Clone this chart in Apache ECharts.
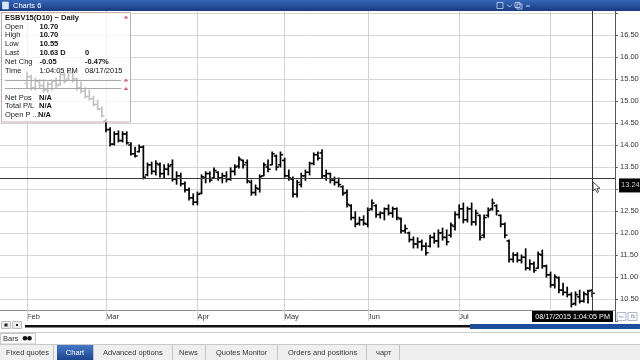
<!DOCTYPE html>
<html><head><meta charset="utf-8">
<script src="https://cdn.jsdelivr.net/npm/echarts@6/dist/echarts.min.js"></script>
<style>html,body{margin:0;padding:0;background:#fff;overflow:hidden}#c{width:640px;height:360px}</style>
</head><body><div id="c"></div>
<script>
// ---- categories (trading days, MM/DD 2015) ----
const categories = [
 '01/23','01/26','01/27','01/28','01/29','01/30',
 '02/02','02/03','02/04','02/05','02/06','02/09','02/10','02/11','02/12','02/13','02/17','02/18','02/19','02/20','02/23','02/24','02/25','02/26','02/27',
 '03/02','03/03','03/04','03/05','03/06','03/09','03/10','03/11','03/12','03/13','03/16','03/17','03/18','03/19','03/20','03/23','03/24','03/25','03/26','03/27','03/30','03/31',
 '04/01','04/02','04/06','04/07','04/08','04/09','04/10','04/13','04/14','04/15','04/16','04/17','04/20','04/21','04/22','04/23','04/24','04/27','04/28','04/29','04/30',
 '05/01','05/04','05/05','05/06','05/07','05/08','05/11','05/12','05/13','05/14','05/15','05/18','05/19','05/20','05/21','05/22','05/26','05/27','05/28','05/29',
 '06/01','06/02','06/03','06/04','06/05','06/08','06/09','06/10','06/11','06/12','06/15','06/16','06/17','06/18','06/19','06/22','06/23','06/24','06/25','06/26','06/29','06/30',
 '07/01','07/02','07/06','07/07','07/08','07/09','07/10','07/13','07/14','07/15','07/16','07/17','07/20','07/21','07/22','07/23','07/24','07/27','07/28','07/29','07/30','07/31',
 '08/03','08/04','08/05','08/06','08/07','08/10','08/11','08/12','08/13','08/14','08/17',
 '08/18','08/19','08/20','08/21','08/24'
];
const monthStarts = ['02/02','03/02','04/01','05/01','06/01','07/01','08/03'];
const monthNames  = ['Feb','Mar','Apr','May','Jun','Jul','Aug'];
const firstBarDate = '02/02';

// ---- OHLC values (Feb 2 .. Aug 17) ----
const opens = [
 15.40,15.55,15.30,15.45,15.35,15.25,15.38,15.45,15.38,15.60,15.50,15.65,15.50,15.30,15.22,15.10,15.05,14.92,14.82,
 14.55,14.35,14.02,14.25,14.10,14.25,14.00,13.80,13.85,13.95,13.32,13.55,13.40,13.55,13.35,13.45,13.55,13.22,13.30,13.12,12.98,12.80,
 12.70,12.90,13.25,13.35,13.25,13.38,13.25,13.30,13.22,13.40,13.52,13.65,13.60,13.15,12.92,13.00,13.30,13.50,13.55,13.75,13.55,
 13.65,13.30,13.22,12.88,13.10,13.30,13.38,13.58,13.78,13.82,13.30,13.35,13.20,13.15,13.05,12.92,12.62,12.35,12.22,12.30,
 12.20,12.55,12.62,12.42,12.45,12.55,12.45,12.55,12.32,12.05,12.00,11.85,11.75,11.80,11.70,11.70,11.90,11.82,12.00,11.90,11.95,12.15,
 12.42,12.55,12.30,12.55,12.25,12.40,11.95,12.40,12.55,12.62,12.40,12.20,11.82,11.40,11.50,11.38,11.45,11.20,11.30,11.20,11.50,11.25,
 11.05,10.82,10.98,10.70,10.65,10.60,10.40,10.55,10.45,10.60,10.70
];
const highs = [
 15.64,15.59,15.52,15.48,15.48,15.43,15.48,15.52,15.64,15.64,15.70,15.66,15.52,15.43,15.30,15.25,15.11,15.02,14.86,
 14.59,14.39,14.30,14.32,14.30,14.30,14.05,13.95,14.00,13.98,13.59,13.61,13.64,13.59,13.55,13.57,13.66,13.39,13.36,13.16,13.02,12.89,
 12.93,13.32,13.39,13.39,13.48,13.39,13.36,13.39,13.48,13.55,13.73,13.66,13.66,13.20,13.09,13.32,13.59,13.66,13.84,13.77,13.84,
 13.70,13.43,13.27,13.20,13.36,13.43,13.61,13.82,13.84,13.89,13.43,13.36,13.27,13.25,13.07,12.98,12.64,12.48,12.36,12.39,
 12.57,12.75,12.64,12.48,12.57,12.64,12.59,12.57,12.34,12.18,12.02,11.91,11.89,11.84,11.77,11.95,12.00,12.07,12.11,12.07,12.23,12.48,
 12.64,12.68,12.59,12.68,12.52,12.41,12.41,12.57,12.77,12.64,12.41,12.23,11.84,11.55,11.55,11.50,11.64,11.39,11.34,11.57,11.61,11.27,
 11.11,11.05,11.00,10.86,10.77,10.64,10.66,10.70,10.66,10.70,10.70
];
const lows = [
 15.30,15.25,15.25,15.30,15.20,15.20,15.25,15.30,15.36,15.41,15.48,15.43,15.25,15.18,15.07,15.02,14.89,14.80,14.64,
 14.30,13.98,14.00,14.07,14.07,14.02,13.77,13.73,13.84,13.23,13.30,13.34,13.32,13.27,13.25,13.32,13.18,13.11,13.07,12.93,12.75,12.64,
 12.64,12.89,13.14,13.16,13.25,13.20,13.14,13.16,13.20,13.32,13.48,13.48,13.14,12.86,12.86,12.93,13.30,13.39,13.55,13.43,13.50,
 13.27,13.20,12.82,12.82,13.05,13.20,13.32,13.55,13.66,13.25,13.20,13.14,13.09,13.05,12.86,12.59,12.30,12.14,12.18,12.18,
 12.14,12.52,12.36,12.34,12.30,12.41,12.36,12.30,12.00,12.00,11.80,11.66,11.66,11.61,11.50,11.68,11.77,11.68,11.84,11.73,11.91,12.07,
 12.34,12.23,12.25,12.18,12.18,11.84,11.89,12.36,12.52,12.41,12.14,11.89,11.34,11.34,11.34,11.32,11.16,11.16,11.11,11.20,11.20,11.00,
 10.77,10.75,10.64,10.59,10.55,10.32,10.36,10.41,10.43,10.41,10.55
];
const closes = [
 15.55,15.30,15.45,15.35,15.25,15.38,15.45,15.35,15.60,15.45,15.65,15.50,15.30,15.22,15.10,15.05,14.92,14.82,14.66,
 14.35,14.02,14.25,14.10,14.25,14.05,13.80,13.75,13.95,13.27,13.55,13.40,13.58,13.35,13.45,13.52,13.22,13.30,13.12,12.98,12.80,12.70,
 12.88,13.28,13.35,13.20,13.42,13.25,13.30,13.22,13.40,13.50,13.68,13.55,13.18,12.92,13.02,13.28,13.55,13.45,13.80,13.50,13.78,
 13.30,13.25,12.88,13.15,13.30,13.38,13.58,13.78,13.70,13.30,13.35,13.20,13.15,13.10,12.90,12.65,12.35,12.20,12.30,12.22,
 12.52,12.68,12.42,12.45,12.55,12.45,12.55,12.35,12.05,12.10,11.85,11.75,11.80,11.70,11.55,11.90,11.82,12.00,11.90,11.80,12.18,12.42,
 12.55,12.30,12.55,12.25,12.45,11.90,12.35,12.52,12.68,12.50,12.20,11.95,11.40,11.50,11.38,11.45,11.20,11.30,11.15,11.52,11.25,11.05,
 10.82,11.00,10.70,10.65,10.60,10.38,10.60,10.45,10.62,10.68,10.63
];

// ---- axis / cursor texts ----
const yMin = 10, yMax = 17.5, yStep = 0.5, yLabelLow = 10.5, yLabelHigh = 16.5;
const crossDate = '08/17';
const crossPrice = 13.24;
const crossLabel = '13.24';
const lastPrice = 10.63;
const dateStamp = '08/17/2015 1:04:05 PM';
const infoRows = [
  ['Open','10.70','',''],['High','10.70','',''],['Low','10.55','',''],
  ['Last','10.63 D','0',''],['Net Chg','-0.05','-0.47%',''],['Time','1:04:05 PM','08/17/2015','r']
];
const posRows = [['Net Pos','N/A'],['Total P/L','N/A'],['Open P ...','N/A']];
const tabs = [['Fixed quotes',6],['Advanced options',103],['News',179],['Quotes Monitor',216],['Orders and positions',288],['чарт',376]];
const tabSeps = [53,93,172,205,277,366,399];

const FONT = '"Liberation Sans", Arial, sans-serif';
const start = categories.indexOf(firstBarDate);
const ohlc = opens.map((o,k)=>[start+k, o, highs[k], lows[k], closes[k]]);

function renderBar(params, api){
  const x = api.value(0);
  const o = api.coord([x, api.value(1)]);
  const h = api.coord([x, api.value(2)]);
  const l = api.coord([x, api.value(3)]);
  const c = api.coord([x, api.value(4)]);
  const st = {stroke:'#000', lineWidth:1.7};
  const tk = {stroke:'#000', lineWidth:1.5};
  return {type:'group', children:[
    {type:'line', shape:{x1:h[0],y1:h[1]-0.5,x2:l[0],y2:l[1]+0.5}, style:st},
    {type:'line', shape:{x1:o[0]-2.6,y1:o[1],x2:o[0],y2:o[1]}, style:tk},
    {type:'line', shape:{x1:c[0],y1:c[1],x2:c[0]+2.6,y2:c[1]}, style:tk}
  ]};
}

const chart = echarts.init(document.getElementById('c'), null, {renderer:'canvas'});

const g = [];
// title bar
g.push({type:'rect', shape:{x:0,y:0,width:640,height:11}, z:200,
  style:{fill:new echarts.graphic.LinearGradient(0,0,0,1,[{offset:0,color:'#3566b8'},{offset:1,color:'#173a80'}])}});
g.push({type:'rect', shape:{x:2.5,y:2,width:6,height:7}, z:201, style:{fill:'#d8e4f8', stroke:'#fff', lineWidth:0.5}});
g.push({type:'text', x:13, y:5.5, z:201, style:{text:'Charts 6', fill:'#fff', fontSize:7.5, fontFamily:FONT, verticalAlign:'middle'}});
g.push({type:'rect', shape:{x:497,y:2.5,width:6,height:6}, z:201, style:{fill:'none', stroke:'#cfdcf2', lineWidth:0.8}});
g.push({type:'polyline', shape:{points:[[507,4.5],[509.5,7],[512,4.5]]}, z:201, style:{stroke:'#cfdcf2', lineWidth:0.8, fill:'none'}});
g.push({type:'rect', shape:{x:515,y:2.5,width:5,height:5}, z:201, style:{fill:'none', stroke:'#cfdcf2', lineWidth:0.8}});
g.push({type:'rect', shape:{x:517,y:4,width:5,height:5}, z:201, style:{fill:'none', stroke:'#cfdcf2', lineWidth:0.8}});
g.push({type:'line', shape:{x1:526,y1:6,x2:530,y2:6}, z:201, style:{stroke:'#cfdcf2', lineWidth:1}});

// info box
g.push({type:'rect', shape:{x:1.5,y:12.5,width:129,height:109.5}, z:150,
  style:{fill:'rgba(255,255,255,0.76)', stroke:'#c9a9b0', lineWidth:1}});
g.push({type:'text', x:5, y:17.5, z:151, style:{text:'ESBV15(D10) ~ Daily', fill:'#111', fontSize:7.5, fontWeight:'bold', fontFamily:FONT, verticalAlign:'middle'}});
infoRows.forEach((r,i)=>{
  const y = 26.5 + i*8.8;
  g.push({type:'text', x:5, y:y, z:151, style:{text:r[0], fill:'#222', fontSize:7.5, fontFamily:FONT, verticalAlign:'middle'}});
  g.push({type:'text', x:39.5, y:y, z:151, style:{text:r[1], fill:'#111', fontSize:7.5, fontWeight:r[3]==='r'?'normal':'bold', fontFamily:FONT, verticalAlign:'middle'}});
  if (r[2]) g.push({type:'text', x:85, y:y, z:151, style:{text:r[2], fill:'#111', fontSize:7.5, fontWeight:r[3]==='r'?'normal':'bold', fontFamily:FONT, verticalAlign:'middle'}});
});
[80.5, 88.5].forEach(y=>{
  g.push({type:'line', shape:{x1:5,y1:y,x2:121,y2:y}, z:151, style:{stroke:'#a8a8a8', lineWidth:1}});
});
[17, 80, 88.5].forEach(y=>{
  g.push({type:'polygon', shape:{points:[[123.5,y+1.5],[128.5,y+1.5],[126,y-1.5]]}, z:151, style:{fill:'#cf6a7c'}});
});
posRows.forEach((r,i)=>{
  const y = 97.5 + i*8.9;
  g.push({type:'text', x:5, y:y, z:151, style:{text:r[0], fill:'#222', fontSize:7.5, fontFamily:FONT, verticalAlign:'middle'}});
  g.push({type:'text', x:i===2?38:39, y:y, z:151, style:{text:r[1], fill:'#111', fontSize:7.5, fontWeight:'bold', fontFamily:FONT, verticalAlign:'middle'}});
});

// date stamp on x axis + small buttons
g.push({type:'rect', shape:{x:532,y:311,width:81,height:11}, z:160, style:{fill:'#000'}});
g.push({type:'text', x:572.5, y:316.8, z:161, style:{text:dateStamp, fill:'#fff', fontSize:7.2, fontFamily:FONT, align:'center', verticalAlign:'middle'}});
[617,628].forEach(x=>{
  g.push({type:'rect', shape:{x:x,y:312.5,width:9,height:8}, z:160, style:{fill:'#fdfdfd', stroke:'#9aa6c0', lineWidth:0.8}});
});
g.push({type:'text', x:621.5, y:316.5, z:161, style:{text:'⌙', fill:'#4060a0', fontSize:6, fontFamily:FONT, align:'center', verticalAlign:'middle'}});
g.push({type:'text', x:632.5, y:316.5, z:161, style:{text:'ռ', fill:'#4060a0', fontSize:6, fontFamily:FONT, align:'center', verticalAlign:'middle'}});

// scrollbar area
g.push({type:'rect', shape:{x:0,y:322,width:640,height:11}, z:120, style:{fill:'#fff'}});
g.push({type:'rect', shape:{x:1.5,y:321.5,width:9,height:7}, z:121, style:{fill:'#ececec', stroke:'#b0b0b0', lineWidth:0.8}});
g.push({type:'rect', shape:{x:12.5,y:321.5,width:9,height:7}, z:121, style:{fill:'#ececec', stroke:'#b0b0b0', lineWidth:0.8}});
g.push({type:'rect', shape:{x:4.5,y:323.5,width:3,height:3}, z:122, style:{fill:'#222'}});
g.push({type:'rect', shape:{x:16,y:324,width:2,height:2}, z:122, style:{fill:'#222'}});
g.push({type:'rect', shape:{x:25,y:325,width:615,height:2.5}, z:121, style:{fill:'#111'}});
g.push({type:'rect', shape:{x:470,y:324,width:170,height:5}, z:122, style:{fill:'#1c4e9c'}});
g.push({type:'rect', shape:{x:0,y:332,width:640,height:1}, z:121, style:{fill:'#cccccc'}});
// Bars tab
g.push({type:'rect', shape:{x:0.5,y:333.5,width:35,height:10.5}, z:121, style:{fill:'#fafafa', stroke:'#bdbdbd', lineWidth:0.8}});
g.push({type:'text', x:3, y:339, z:122, style:{text:'Bars', fill:'#333', fontSize:7.5, fontFamily:FONT, verticalAlign:'middle'}});
g.push({type:'circle', shape:{cx:25,cy:338.3,r:2.3}, z:122, style:{fill:'#111'}});
g.push({type:'circle', shape:{cx:29.5,cy:338.3,r:2.3}, z:122, style:{fill:'#111'}});
// bottom tabs
g.push({type:'rect', shape:{x:0,y:344,width:640,height:16}, z:121, style:{fill:'#efefef'}});
g.push({type:'line', shape:{x1:0,y1:344.5,x2:640,y2:344.5}, z:122, style:{stroke:'#c8c8c8', lineWidth:1}});
g.push({type:'rect', shape:{x:57,y:345,width:36,height:15}, z:122,
  style:{fill:new echarts.graphic.LinearGradient(0,0,0,1,[{offset:0,color:'#4577c6'},{offset:1,color:'#1d468e'}])}});
g.push({type:'text', x:75, y:352.5, z:123, style:{text:'Chart', fill:'#fff', fontSize:7.5, fontFamily:FONT, align:'center', verticalAlign:'middle'}});
tabs.forEach(t=>{
  g.push({type:'text', x:t[1], y:352.5, z:123, style:{text:t[0], fill:'#333', fontSize:7.5, fontFamily:FONT, verticalAlign:'middle'}});
});
tabSeps.forEach(x=>{
  g.push({type:'line', shape:{x1:x+0.5,y1:345,x2:x+0.5,y2:360}, z:123, style:{stroke:'#c4c4c4', lineWidth:1}});
});
// mouse cursor
g.push({type:'polygon', shape:{points:[[593,182],[593,191],[595.3,188.8],[597,192.5],[598.6,191.8],[597,188.3],[600,188.3]]}, z:170,
  style:{fill:'#fff', stroke:'#222', lineWidth:0.8}});

const option = {
  animation:false,
  backgroundColor:'#fff',
  grid:{left:0, top:-9, width:615, height:330, containLabel:false, outerBoundsMode:'none'},
  xAxis:{
    type:'category', data:categories, boundaryGap:true, position:'bottom', offset:-11,
    axisLine:{show:true, lineStyle:{color:'#8c8c8c', width:1}},
    axisTick:{show:true, alignWithLabel:true, length:4, interval:(i,v)=>monthStarts.includes(v), lineStyle:{color:'#9a9a9a'}},
    axisLabel:{show:true, interval:(i,v)=>monthStarts.includes(v), formatter:(v)=>monthNames[monthStarts.indexOf(v)] || '',
      align:'left', margin:3, fontSize:7.5, color:'#333', fontFamily:FONT},
    splitLine:{show:false}
  },
  yAxis:{
    type:'value', position:'right', min:yMin, max:yMax, interval:yStep, scale:true,
    axisLine:{show:true, lineStyle:{color:'#555', width:1}},
    axisTick:{show:true, length:3, lineStyle:{color:'#666'}},
    axisLabel:{show:true, margin:5, fontSize:7.5, color:'#333', fontFamily:FONT, padding:[0,0,4,0],
      formatter:(v)=> (v>=yLabelLow-1e-9 && v<=yLabelHigh+1e-9) ? v.toFixed(2) : ''},
    splitLine:{show:true, showMinLine:false, showMaxLine:false, lineStyle:{color:'#d6d6d6', width:1}}
  },
  series:[
    {
      type:'line', data:categories.map(()=>null), silent:true, z:1, showSymbol:false,
      markLine:{silent:true, symbol:'none', animation:false, label:{show:false},
        lineStyle:{color:'#d2d2d2', width:1, type:'solid'},
        data:monthStarts.map(d=>({xAxis:d}))}
    },
    {
      type:'custom', renderItem:renderBar, data:ohlc, z:5, clip:true,
      encode:{x:0, y:[1,2,3,4]},
      markLine:{silent:true, symbol:'none', animation:false, z:6,
        data:[
          {xAxis:crossDate, lineStyle:{color:'#3a3a3a', width:1, type:'solid'}, label:{show:false}},
          {yAxis:crossPrice, lineStyle:{color:'#3a3a3a', width:1, type:'solid'},
            label:{show:true, position:'end', distance:4, formatter:crossLabel, color:'#ccc', backgroundColor:'#000',
              padding:[2,3,4,2], fontSize:7.5, fontFamily:FONT, verticalAlign:'top'}},
          {yAxis:lastPrice, lineStyle:{opacity:0},
            label:{show:true, position:'end', distance:4, formatter:lastPrice.toFixed(2), color:'#fff', backgroundColor:'#000',
              padding:[2,2,1,2], fontSize:7.5, fontFamily:FONT}}
        ]}
    }
  ],
  graphic:{elements:g}
};
chart.setOption(option);
</script>
</body></html>
